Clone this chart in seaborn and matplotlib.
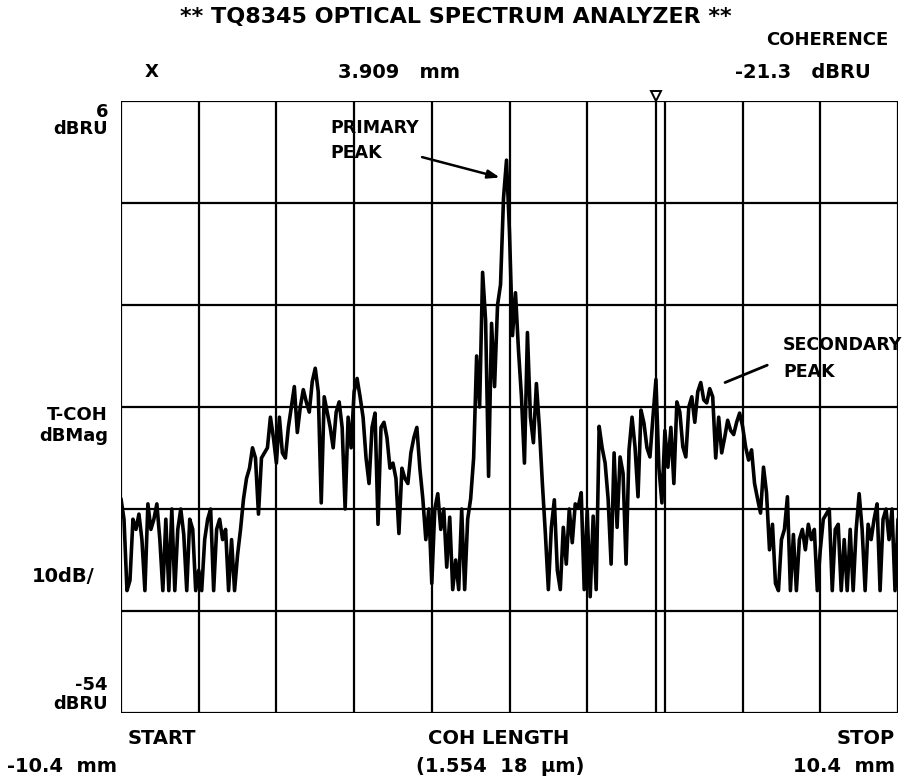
import numpy as np
import pandas as pd
import matplotlib
matplotlib.use("Agg")
import matplotlib.pyplot as plt
import seaborn as sns

# ---- analyzer settings ----
start_mm, stop_mm = -10.4, 10.4
ref_level = 6          # dBRU at top graticule line
bottom_level = -54     # dBRU at bottom graticule line
n_div_x, n_div_y = 10, 6

marker_mm = 3.909
marker_dbru = -21.3

# ---- coherence trace, one reading per sweep point (dBRU) ----
level_dbru = [
    -33, -35, -42, -41, -35, -36, -34.5, -37, -42, -33.5,
    -36, -35, -33.5, -37, -42, -35, -42, -34, -42, -36,
    -34, -36.5, -42, -35, -36, -42, -40, -42, -37, -35,
    -34, -42, -36, -35, -37, -36, -42, -37, -42, -38.5,
    -36, -33, -31, -30, -28, -29, -34.5, -29, -28.5, -28,
    -25, -27, -29.5, -25, -28.5, -29, -26, -24, -22, -26.5,
    -24, -22.3, -23.5, -24.5, -21.5, -20.2, -22.5, -33.4, -23, -24.5,
    -26, -28, -24.5, -23.5, -26, -34, -25, -28, -22.5, -21.2,
    -23, -25, -29, -31.5, -26, -24.6, -35.5, -26, -25.5, -27,
    -30, -29.5, -31, -36.4, -30, -31, -31.5, -28.5, -27, -26,
    -30, -33, -37, -34, -41.3, -34, -32.5, -36, -34, -39.7,
    -34.8, -41.9, -39, -41.9, -34, -41.9, -35, -33, -29, -19,
    -24, -10.8, -15.5, -30.8, -15.8, -22, -14, -12, -3.5, 0.2,
    -6.9, -17, -12.8, -18.4, -23, -29.5, -16.7, -25, -27.5, -21.7,
    -26, -31.5, -36.4, -41.9, -35.8, -33.1, -40, -41.9, -35.8, -39.4,
    -34, -37.3, -33.5, -33.8, -32.4, -41.9, -34, -42.6, -34.7, -41.9,
    -25.9, -28, -29.5, -33, -39.4, -28.5, -35.8, -28.9, -30.5, -39.4,
    -28.2, -25, -27.9, -32.8, -24.3, -25.6, -28, -28.9, -25, -21.3,
    -30, -33.4, -26.3, -29.9, -26, -31.5, -23.5, -24.5, -27.9, -28.9,
    -24, -23, -25.5, -22.5, -21.6, -23.3, -23.6, -22.2, -23, -29,
    -25, -28.5, -27, -25.3, -26.3, -26.7, -25.5, -24.6, -25.9, -27.9,
    -29.2, -28.2, -31.5, -33, -34.4, -29.9, -32.4, -38, -35.5, -41.3,
    -42, -37, -36, -32.8, -42, -36.5, -42, -37, -36, -38,
    -35.5, -37, -36, -42, -38, -35, -34.5, -34, -42, -36,
    -35.5, -42, -37, -42, -36, -42, -36, -32.5, -36, -42,
    -35.5, -37, -35, -33.5, -42, -35, -34, -37, -34, -42,
    -35,
]

# sweep positions: equally spaced points from START to STOP
trace = pd.DataFrame({
    "coh_mm": np.linspace(start_mm, stop_mm, len(level_dbru)),
    "level": level_dbru,
})

sns.set_style("white")
plt.rcParams["font.family"] = ["DejaVu Sans"]
plt.rcParams["font.weight"] = "bold"
plt.rcParams["text.color"] = "black"

W, H = 906, 777
fig = plt.figure(figsize=(W / 100, H / 100), dpi=100)
ax = fig.add_axes([121 / W, 1 - 713 / H, (898 - 121) / W, (713 - 101) / H])

# graticule
for k in range(n_div_x + 1):
    ax.axvline(start_mm + k * (stop_mm - start_mm) / n_div_x, color="black", lw=1.6, zorder=1)
for k in range(n_div_y + 1):
    ax.axhline(ref_level - k * (ref_level - bottom_level) / n_div_y, color="black", lw=1.6, zorder=1)

# trace
sns.lineplot(data=trace, x="coh_mm", y="level", ax=ax, color="black", lw=2.6,
             zorder=3, legend=False)

# marker line and triangle
ax.axvline(marker_mm, color="black", lw=1.6, zorder=2)
ax.plot([marker_mm], [ref_level + 0.45], marker="v", ms=7, mfc="white", mec="black",
        mew=1.4, clip_on=False, zorder=5)

ax.set_xlim(start_mm, stop_mm)
ax.set_ylim(bottom_level, ref_level)
ax.set_xticks([])
ax.set_yticks([])
ax.set_xlabel("")
ax.set_ylabel("")
for s in ax.spines.values():
    s.set_visible(False)


def ftext(x, y, s, ha="left", size=13):
    fig.text(x / W, 1 - y / H, s, ha=ha, va="center", fontsize=size)


# peak callouts
ftext(330, 128, "PRIMARY", size=12.5)
ftext(330, 153, "PEAK", size=12.5)
ax.annotate("", xy=(-0.26, -1.5), xytext=(-2.34, 0.5),
            arrowprops=dict(arrowstyle="-|>,head_length=0.7,head_width=0.25",
                            color="black", lw=1.8, shrinkA=0, shrinkB=0),
            zorder=6)
ftext(783, 345, "SECONDARY", size=12.5)
ftext(783, 372, "PEAK", size=12.5)
ax.annotate("", xy=(5.77, -21.6), xytext=(6.9, -19.9),
            arrowprops=dict(arrowstyle="-", color="black", lw=2.0, shrinkA=0, shrinkB=0),
            zorder=6)

# header
ftext(456, 17, "** TQ8345 OPTICAL SPECTRUM ANALYZER **", ha="center", size=16)
ftext(888, 40, "COHERENCE", ha="right")
ftext(152, 72, "X", ha="center")
ftext(399, 72, f"{marker_mm:.3f}   mm", ha="center", size=14)
ftext(871, 72, f"{marker_dbru:.1f}   dBRU", ha="right", size=14)

# left annotations
ftext(108, 112, f"{ref_level}", ha="right")
ftext(108, 129, "dBRU", ha="right")
ftext(108, 415, "T-COH", ha="right")
ftext(108, 436, "dBMag", ha="right")
ftext(95, 576, "10dB/", ha="right", size=14)
ftext(108, 685, f"{bottom_level}", ha="right")
ftext(108, 704, "dBRU", ha="right")

# bottom annotations
ftext(162, 738, "START", ha="center", size=14)
ftext(499, 738, "COH LENGTH", ha="center", size=14)
ftext(895, 738, "STOP", ha="right", size=14)
ftext(62, 766, f"{start_mm:.1f}  mm", ha="center", size=14)
ftext(500, 766, "(1.554  18  \u03bcm)", ha="center", size=14)
ftext(895, 766, f"{stop_mm:.1f}  mm", ha="right", size=14)

fig.savefig("out.png", dpi=100, facecolor="white")
